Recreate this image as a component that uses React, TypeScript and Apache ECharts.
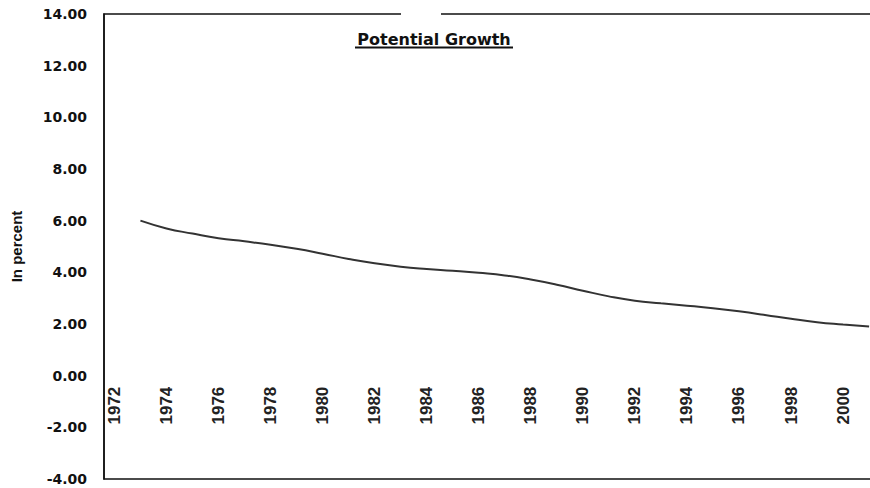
import React, { useEffect, useRef } from "react";
import * as echarts from "echarts";

const years = [1973, 1974, 1975, 1976, 1977, 1978, 1979, 1980, 1981, 1982, 1983, 1984, 1985, 1986, 1987, 1988, 1989, 1990, 1991, 1992, 1993, 1994, 1995, 1996, 1997, 1998, 1999, 2000, 2001];
const potentialGrowth = [6.0, 5.7, 5.5, 5.32, 5.2, 5.07, 4.91, 4.72, 4.52, 4.35, 4.22, 4.13, 4.06, 3.98, 3.88, 3.72, 3.52, 3.29, 3.07, 2.9, 2.8, 2.71, 2.61, 2.49, 2.35, 2.2, 2.07, 1.98, 1.9];
const xTickLabels = [1972, 1974, 1976, 1978, 1980, 1982, 1984, 1986, 1988, 1990, 1992, 1994, 1996, 1998, 2000];
const yMin = -4;
const yMax = 14;
const yStep = 2;

const GRID_TOP = 14;
const GRID_BOTTOM = 9;
const CHART_H = 488;

export default function App() {
  const ref = useRef<HTMLDivElement>(null);
  useEffect(() => {
    if (!ref.current) return;
    const chart = echarts.init(ref.current, null, { renderer: "svg" });
    const gridH = CHART_H - GRID_TOP - GRID_BOTTOM;
    // shift the x axis from the grid bottom up to the zero line
    const zeroOffset = -(gridH * (0 - yMin)) / (yMax - yMin);
    chart.setOption({
      animation: false,
      backgroundColor: "#ffffff",
      grid: {
        left: 104,
        top: GRID_TOP,
        right: -3,
        bottom: GRID_BOTTOM,
        outerBoundsMode: "none",
        containLabel: false,
        show: true,
        borderColor: "#111",
        borderWidth: 1.5,
        backgroundColor: "transparent",
      },
      title: {
        text: "Potential Growth",
        left: 434,
        top: 31,
        padding: 0,
        textAlign: "center",
        textStyle: {
          fontFamily: "DejaVu Sans",
          fontWeight: "bold",
          fontSize: 16,
          color: "#111",
        },
      },
      graphic: [
        {
          type: "line",
          shape: { x1: 355, y1: 47.5, x2: 513, y2: 47.5 },
          style: { stroke: "#111", lineWidth: 2 },
          z: 10,
        },
        {
          type: "rect",
          shape: { x: 401, y: 8, width: 40, height: 12 },
          style: { fill: "#ffffff" },
          z: 10,
        },
      ],
      xAxis: {
        type: "value",
        min: 1971.6,
        max: 2001.15,
        position: "bottom",
        offset: zeroOffset,
        splitLine: { show: false },
        axisLine: { show: false, onZero: false },
        axisTick: { show: false },
        axisLabel: {
          customValues: xTickLabels,
          rotate: 90,
          margin: 11,
          fontFamily: "Liberation Sans Narrow, Arial Narrow, Liberation Sans, Arial",
          fontWeight: "bold",
          fontSize: 17,
          color: "#222",
          formatter: (v: number) => String(v),
        },
      },
      yAxis: {
        type: "value",
        min: yMin,
        max: yMax,
        interval: yStep,
        splitLine: { show: false },
        axisLine: { show: true, lineStyle: { color: "#111", width: 1.5 } },
        axisTick: { show: false },
        axisLabel: {
          margin: 17,
          fontFamily: "DejaVu Sans",
          fontWeight: "bold",
          fontSize: 14,
          color: "#111",
          formatter: (v: number) => v.toFixed(2),
        },
        name: "In percent",
        nameLocation: "middle",
        nameGap: 80,
        nameTextStyle: {
          fontFamily: "Liberation Sans, Arial",
          fontWeight: "bold",
          fontSize: 15,
          color: "#111",
        },
      },
      series: [
        {
          type: "line",
          data: years.map((y, i) => [y, potentialGrowth[i]]),
          smooth: true,
          showSymbol: false,
          lineStyle: { color: "#333", width: 2 },
        },
      ],
    });
    return () => chart.dispose();
  }, []);
  return (
    <div
      ref={ref}
      style={{ position: "fixed", left: 0, top: 0, width: 870, height: 488 }}
    />
  );
}
